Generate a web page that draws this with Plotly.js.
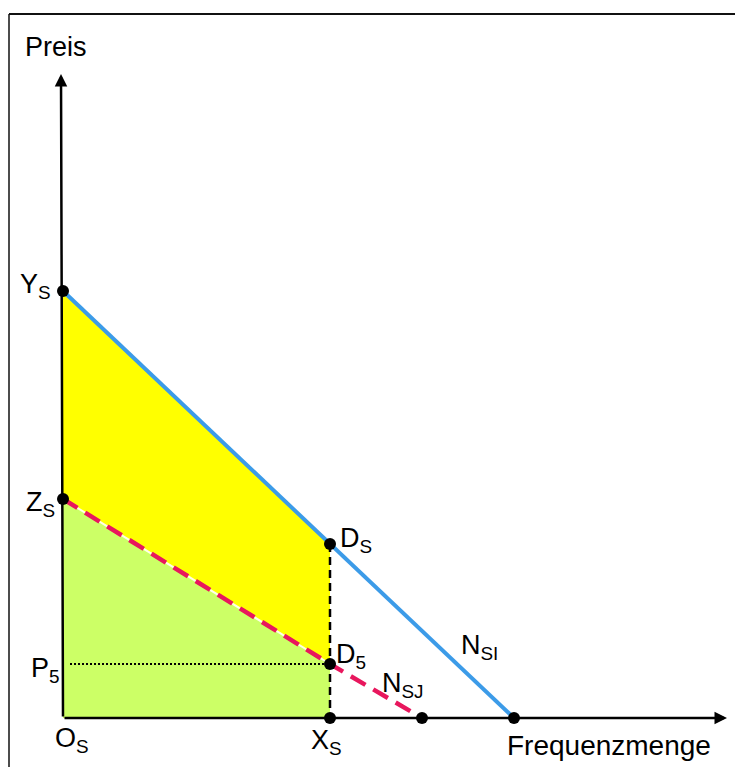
<!DOCTYPE html>
<html>
<head>
<meta charset="utf-8">
<script src="https://cdn.plot.ly/plotly-3.0.1.min.js"></script>
<style>
html,body{margin:0;padding:0;background:#fff;}
#chart{width:735px;height:767px;}
</style>
</head>
<body>
<div id="chart"></div>
<script>
// ---- Data (conceptual units: quantity on x, price on y) ----
const priceIntercepts = [427, 219];        // Y_S (N_SI), Z_S (N_SJ)
const quantityIntercepts = [451, 359];     // N_SI, N_SJ end on quantity axis
const quantityXs = 267;                    // X_S
const priceDs = 174;                       // D_S on N_SI at X_S
const priceD5 = 54;                        // D_5 / P_5 on N_SJ at X_S
const axisMaxX = 664;
const axisMaxY = 644;
const pointLabels = ['Y<sub>S</sub>', 'Z<sub>S</sub>', 'D<sub>S</sub>', 'D<sub>5</sub>', 'X<sub>S</sub>'];
const curveLabels = ['N<sub>SI</sub>', 'N<sub>SJ</sub>'];
const axisLabels = ['Frequenzmenge', 'Preis'];
const extraLabels = ['P<sub>5</sub>', 'O<sub>S</sub>'];

const FONT = 'Liberation Sans, Arial, sans-serif';

const traces = [];
// green area (below N_SJ up to X_S)
traces.push({
  x: [0, quantityXs, quantityXs, 0, 0],
  y: [priceIntercepts[1], priceD5, 0, 0, priceIntercepts[1]],
  mode: 'lines', fill: 'toself', fillcolor: '#CCFF66',
  line: {width: 0, color: 'rgba(0,0,0,0)'}, hoverinfo: 'skip'
});
// yellow area (between N_SI and N_SJ up to X_S)
traces.push({
  x: [0, quantityXs, quantityXs, 0, 0],
  y: [priceIntercepts[0], priceDs, priceD5, priceIntercepts[1], priceIntercepts[0]],
  mode: 'lines', fill: 'toself', fillcolor: '#FFFF00',
  line: {width: 0, color: 'rgba(0,0,0,0)'}, hoverinfo: 'skip'
});
// dotted P5 line
traces.push({
  x: [7, quantityXs], y: [priceD5, priceD5],
  mode: 'lines', line: {color: '#000', width: 2, dash: '2px,2px'}, hoverinfo: 'skip'
});
// black dashed vertical at X_S
traces.push({
  x: [quantityXs, quantityXs], y: [priceDs, 0],
  mode: 'lines', line: {color: '#000', width: 2.5, dash: '8px,5px'}, hoverinfo: 'skip'
});
// blue N_SI
traces.push({
  x: [0, quantityXs, quantityIntercepts[0]], y: [priceIntercepts[0], priceDs, 0],
  mode: 'lines', line: {color: '#3C9BE8', width: 4}, hoverinfo: 'skip'
});
// white underlay of N_SJ
traces.push({
  x: [0, quantityXs], y: [priceIntercepts[1], priceD5],
  mode: 'lines', line: {color: '#FFFFE8', width: 2}, hoverinfo: 'skip'
});
// red dashed N_SJ
traces.push({
  x: [0, quantityXs, quantityIntercepts[1]], y: [priceIntercepts[1], priceD5, 0],
  mode: 'lines', line: {color: '#E8175D', width: 4.5, dash: '17px,9px'}, hoverinfo: 'skip'
});
// points
traces.push({
  x: [0, 0, quantityXs, quantityXs, quantityXs, quantityIntercepts[1], quantityIntercepts[0]],
  y: [priceIntercepts[0], priceIntercepts[1], priceDs, priceD5, 0, 0, 0],
  mode: 'markers', marker: {color: '#000', size: 12}, hoverinfo: 'skip'
});

function lab(text, x, y, xa, ya, size) {
  return {text: text, x: x, y: y, xref: 'x', yref: 'y', xanchor: xa, yanchor: ya,
          showarrow: false, font: {family: FONT, size: size || 27, color: '#000'}};
}

const annotations = [
  // axes with arrows
  {x: axisMaxX, y: 0, ax: 0, ay: 0, xref: 'x', yref: 'y', axref: 'x', ayref: 'y',
   showarrow: true, arrowhead: 2, arrowsize: 1, arrowwidth: 2.5, arrowcolor: '#000', text: ''},
  {x: -2, y: axisMaxY, ax: 0, ay: 0, xref: 'x', yref: 'y', axref: 'x', ayref: 'y',
   showarrow: true, arrowhead: 2, arrowsize: 1, arrowwidth: 2.5, arrowcolor: '#000', text: ''},
  lab(axisLabels[1], -7, 671, 'center', 'middle', 27),
  lab(axisLabels[0], 546, -27, 'center', 'middle', 28),
  lab(pointLabels[0], -10, priceIntercepts[0] + 5, 'right', 'middle'),
  lab(pointLabels[1], -6, priceIntercepts[1] - 5, 'right', 'middle'),
  lab(pointLabels[2], quantityXs + 8, priceDs + 4, 'left', 'middle'),
  lab(pointLabels[3], quantityXs + 4, priceD5 + 8, 'left', 'middle'),
  lab(pointLabels[4], quantityXs - 4, -24, 'center', 'middle'),
  lab(curveLabels[0], 396, 71, 'left', 'middle'),
  lab(curveLabels[1], 317, 33, 'left', 'middle'),
  lab(extraLabels[0], -1, priceD5 - 6, 'right', 'middle'),
  lab(extraLabels[1], 9, -22, 'center', 'middle')
];

const shapes = [
  {type: 'line', xref: 'x', yref: 'y', x0: -54, x1: 672, y0: 704, y1: 704, line: {color: '#111', width: 2}},
  {type: 'line', xref: 'x', yref: 'y', x0: -54, x1: -54, y0: 704, y1: -49, line: {color: '#111', width: 1.5}}
];

const layout = {
  width: 735, height: 767,
  margin: {l: 0, r: 0, t: 0, b: 0},
  paper_bgcolor: '#fff', plot_bgcolor: '#fff',
  showlegend: false,
  xaxis: {range: [-63, 672], visible: false, fixedrange: true},
  yaxis: {range: [-49, 718], visible: false, fixedrange: true},
  annotations: annotations,
  shapes: shapes
};

Plotly.newPlot('chart', traces, layout, {displayModeBar: false, staticPlot: true});
</script>
</body>
</html>
